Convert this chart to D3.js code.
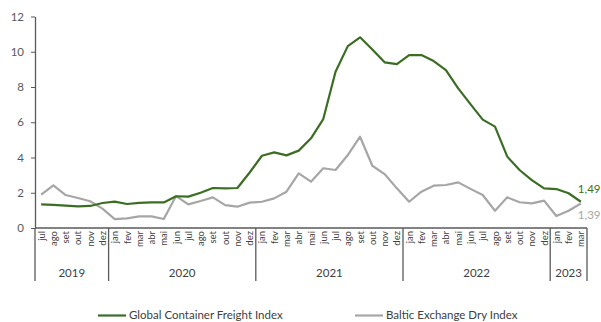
<!DOCTYPE html>
<html>
<head>
<meta charset="utf-8">
<script src="https://cdn.jsdelivr.net/npm/d3@7"></script>
<style>
  html, body { margin: 0; padding: 0; background: #fff; }
  svg text { font-family: Lato, "Open Sans", "Liberation Sans", sans-serif; }
</style>
</head>
<body>
<svg id="chart" width="601" height="322"></svg>
<script>
// Monthly index levels, jul/2019 – mar/2023
const monthNames = ["jan","fev","mar","abr","mai","jun","jul","ago","set","out","nov","dez"];
const years = [2019, 2020, 2021, 2022, 2023];
const yearStartMonth = [6, 0, 0, 0, 0];   // first month index shown per year
const yearEndMonth   = [11, 11, 11, 11, 2];

const gcfi = [1.34, 1.31, 1.27, 1.23, 1.25, 1.42, 1.50, 1.36, 1.43, 1.45, 1.45, 1.80,
              1.78, 2.00, 2.27, 2.25, 2.27, 3.15, 4.10, 4.29, 4.12, 4.39, 5.09, 6.18,
              8.87, 10.32, 10.82, 10.13, 9.40, 9.30, 9.81, 9.81, 9.47, 8.96, 7.92, 7.03,
              6.15, 5.75, 4.05, 3.29, 2.72, 2.25, 2.21, 1.97, 1.49];
const bdi  = [1.89, 2.42, 1.87, 1.70, 1.52, 1.10, 0.50, 0.55, 0.66, 0.66, 0.51, 1.81,
              1.34, 1.53, 1.74, 1.30, 1.21, 1.44, 1.49, 1.68, 2.06, 3.10, 2.63, 3.39,
              3.29, 4.14, 5.18, 3.53, 3.06, 2.25, 1.49, 2.06, 2.40, 2.44, 2.59, 2.22,
              1.87, 0.98, 1.74, 1.46, 1.40, 1.55, 0.68, 0.98, 1.39];
const yTicks = [0, 2, 4, 6, 8, 10, 12];
const seriesNames = ["Global Container Freight Index", "Baltic Exchange Dry Index"];
const endLabels = ["1,49", "1,39"];

const colors = ["#3b6e22", "#a6a6a6"];
const axisColor = "#595959";
const textColor = "#595959";

// Build the category list (one entry per month)
const months = [];
years.forEach((yr, k) => {
  for (let m = yearStartMonth[k]; m <= yearEndMonth[k]; m++) {
    months.push({ key: yr + "-" + m, label: monthNames[m], year: yr });
  }
});

const svg = d3.select("#chart");
const plotLeft = 35, plotRight = 587, plotTop = 16.5, plotBottom = 228;

const x = d3.scaleBand().domain(months.map(d => d.key)).range([plotLeft, plotRight]).padding(0);
const y = d3.scaleLinear().domain([0, 12]).range([plotBottom, plotTop]);

// Y axis
const yAxis = svg.append("g")
  .attr("transform", `translate(${plotLeft},0)`)
  .call(d3.axisLeft(y).tickValues(yTicks).tickSize(4).tickPadding(7).tickSizeOuter(0));
yAxis.select(".domain").attr("stroke", axisColor).attr("stroke-width", 1.3);
yAxis.selectAll(".tick line").attr("stroke", axisColor);
yAxis.selectAll(".tick text").attr("fill", textColor).attr("font-size", 11.5);

// X axis baseline
svg.append("line")
  .attr("x1", plotLeft).attr("x2", plotRight).attr("y1", plotBottom).attr("y2", plotBottom)
  .attr("stroke", axisColor).attr("stroke-width", 1.3);

// Month labels (rotated)
svg.append("g").selectAll("text")
  .data(months).join("text")
  .attr("transform", d => `translate(${x(d.key) + x.bandwidth() / 2 + 3.5},${plotBottom + 3}) rotate(-90)`)
  .attr("text-anchor", "end")
  .attr("font-size", 9.5)
  .attr("fill", "#404040")
  .text(d => d.label);

// Year separators and labels
const sepBottom = 281;
const groups = years.map(yr => {
  const ms = months.filter(d => d.year === yr);
  return { year: yr, x0: x(ms[0].key), x1: x(ms[ms.length - 1].key) + x.bandwidth() };
});
const seps = [plotLeft].concat(groups.map(g => g.x1));
svg.append("g").selectAll("line")
  .data(seps).join("line")
  .attr("x1", d => d).attr("x2", d => d)
  .attr("y1", plotBottom).attr("y2", sepBottom)
  .attr("stroke", axisColor).attr("stroke-width", 1.3);
svg.append("g").selectAll("text")
  .data(groups).join("text")
  .attr("x", d => (d.x0 + d.x1) / 2)
  .attr("y", 277)
  .attr("text-anchor", "middle")
  .attr("font-size", 11.5)
  .attr("fill", "#404040")
  .text(d => d.year);

// Lines
const line = d3.line()
  .x((d, i) => x(months[i].key) + x.bandwidth() / 2)
  .y(d => y(d));
[bdi, gcfi].forEach((s, k) => {
  svg.append("path")
    .datum(s)
    .attr("fill", "none")
    .attr("stroke", k === 0 ? colors[1] : colors[0])
    .attr("stroke-width", 2.2)
    .attr("stroke-linejoin", "round")
    .attr("d", line);
});

// End-of-series value labels
const lastX = x(months[months.length - 1].key) + x.bandwidth() / 2;
svg.append("text")
  .attr("x", lastX - 3).attr("y", 193)
  .attr("font-size", 11.5).attr("fill", colors[0])
  .text(endLabels[0]);
svg.append("text")
  .attr("x", lastX - 3).attr("y", 219)
  .attr("font-size", 11.5).attr("fill", colors[1])
  .text(endLabels[1]);

// Legend
const legendItems = [
  { name: seriesNames[0], color: colors[0], x: 98 },
  { name: seriesNames[1], color: colors[1], x: 355 }
];
const lg = svg.append("g").selectAll("g").data(legendItems).join("g")
  .attr("transform", d => `translate(${d.x},315.5)`);
lg.append("line").attr("x1", 0).attr("x2", 28).attr("y1", 0).attr("y2", 0)
  .attr("stroke", d => d.color).attr("stroke-width", 2.2);
lg.append("text").attr("x", 31).attr("y", 3.5)
  .attr("font-size", 11.5).attr("fill", "#404040")
  .text(d => d.name);
</script>
</body>
</html>
